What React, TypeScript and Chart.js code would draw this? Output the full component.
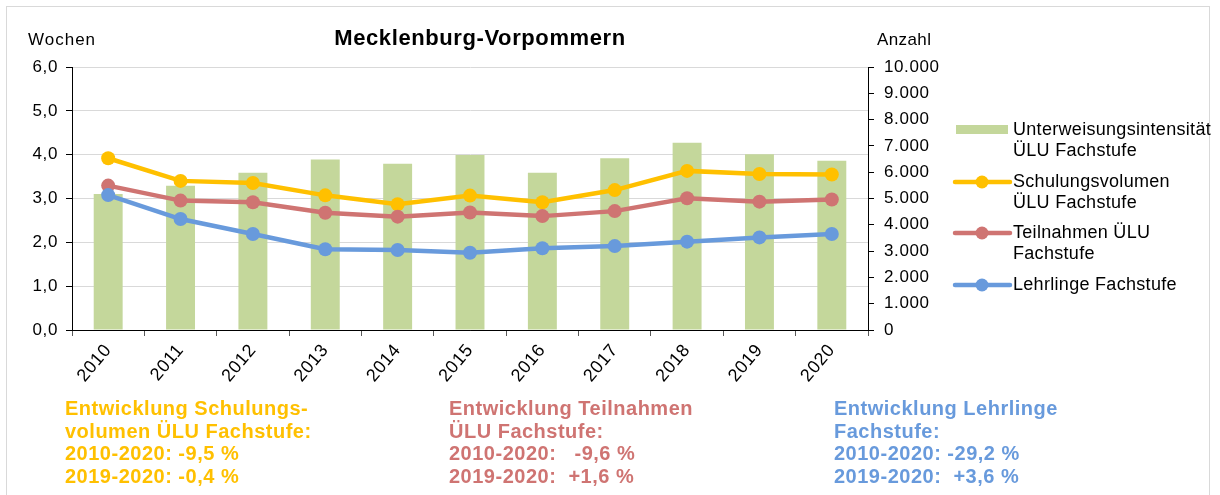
import React, { useEffect, useRef } from "react";
import { Chart, registerables } from "chart.js";

Chart.register(...registerables);

const years = ["2010", "2011", "2012", "2013", "2014", "2015", "2016", "2017", "2018", "2019", "2020"];
const intensitaet = [3.1, 3.29, 3.59, 3.89, 3.79, 3.99, 3.59, 3.92, 4.27, 4.01, 3.86];
const schulungsvolumen = [6530, 5670, 5590, 5120, 4780, 5110, 4860, 5320, 6050, 5930, 5910];
const teilnahmen = [5490, 4920, 4860, 4460, 4310, 4470, 4330, 4520, 5010, 4880, 4960];
const lehrlinge = [5130, 4220, 3650, 3070, 3040, 2940, 3110, 3190, 3360, 3520, 3650];

const title = "Mecklenburg-Vorpommern";
const leftAxisTitle = "Wochen";
const rightAxisTitle = "Anzahl";

const legendLabels = [
  ["Unterweisungsintensität", "ÜLU Fachstufe"],
  ["Schulungsvolumen", "ÜLU Fachstufe"],
  ["Teilnahmen ÜLU", "Fachstufe"],
  ["Lehrlinge Fachstufe"],
];

const noteYellow = ["Entwicklung Schulungs-", "volumen ÜLU Fachstufe:", "2010-2020: -9,5 %", "2019-2020: -0,4 %"];
const noteRed = ["Entwicklung Teilnahmen", "ÜLU Fachstufe:", "2010-2020:   -9,6 %", "2019-2020:  +1,6 %"];
const noteBlue = ["Entwicklung Lehrlinge", "Fachstufe:", "2010-2020: -29,2 %", "2019-2020:  +3,6 %"];

const GREEN = "#C4D79B";
const YELLOW = "#FFC000";
const RED = "#CF7472";
const BLUE = "#689ADC";
const FONT = "'Liberation Sans', Arial, sans-serif";

const spacingPlugin = {
  id: "spacing",
  beforeUpdate(chart: any) {
    chart.ctx.letterSpacing = "0.6px";
  },
  beforeDraw(chart: any) {
    chart.ctx.letterSpacing = "0.6px";
  },
};

export default function App() {
  const canvasRef = useRef<HTMLCanvasElement>(null);

  useEffect(() => {
    const ctx = canvasRef.current!;
    const tickFont = { family: FONT, size: 17 };
    const lineDs = (label: string, data: number[], color: string, order: number): any => ({
      type: "line",
      label,
      data,
      yAxisID: "y1",
      borderColor: color,
      backgroundColor: color,
      borderWidth: 4.5,
      pointRadius: 7,
      pointBorderWidth: 0,
      pointBackgroundColor: color,
      order,
    });
    const chart = new Chart(ctx, {
      type: "bar",
      data: {
        labels: years,
        datasets: [
          lineDs("Lehrlinge Fachstufe", lehrlinge, BLUE, 1),
          lineDs("Teilnahmen ÜLU Fachstufe", teilnahmen, RED, 2),
          lineDs("Schulungsvolumen ÜLU Fachstufe", schulungsvolumen, YELLOW, 3),
          {
            type: "bar",
            label: "Unterweisungsintensität ÜLU Fachstufe",
            data: intensitaet,
            yAxisID: "y",
            backgroundColor: GREEN,
            borderWidth: 0,
            categoryPercentage: 1,
            barPercentage: 0.4,
            order: 10,
          } as any,
        ],
      },
      options: {
        responsive: false,
        animation: false,
        layout: { padding: { top: 67, left: 0, right: 0, bottom: 0 } },
        plugins: {
          legend: { display: false },
          tooltip: { enabled: false },
          title: { display: false },
        },
        scales: {
          x: {
            offset: true,
            grid: {
              offset: true,
              drawOnChartArea: false,
              drawTicks: true,
              tickLength: 6,
              tickColor: "#595959",
            },
            border: { display: true, color: "#000", width: 1 },
            ticks: {
              font: { family: FONT, size: 18 },
              color: "#000",
              minRotation: 50,
              maxRotation: 50,
              autoSkip: false,
              padding: 4,
            },
            afterFit: (s: any) => {
              s.height = 70;
            },
          },
          y: {
            position: "left",
            min: 0,
            max: 6,
            grid: {
              color: (c: any) => (c.tick && c.tick.value === 0 ? "#000" : "#D9D9D9"),
              lineWidth: 1,
              drawTicks: true,
              tickLength: 6,
              tickColor: "#000",
            },
            border: { display: true, color: "#000", width: 1 },
            ticks: {
              stepSize: 1,
              font: tickFont,
              color: "#000",
              padding: 8,
              callback: (v: any) => Number(v).toFixed(1).replace(".", ","),
            },
            afterFit: (s: any) => {
              s.width = 72;
            },
          },
          y1: {
            position: "right",
            min: 0,
            max: 10000,
            grid: {
              drawOnChartArea: false,
              drawTicks: true,
              tickLength: 6,
              tickColor: "#000",
            },
            border: { display: true, color: "#000", width: 1 },
            ticks: {
              stepSize: 1000,
              font: tickFont,
              color: "#000",
              padding: 10,
              callback: (v: any) => Number(v).toLocaleString("de-DE"),
            },
            afterFit: (s: any) => {
              s.width = 352;
            },
          },
        },
      },
      plugins: [spacingPlugin],
    });
    return () => chart.destroy();
  }, []);

  const legendTops = [119, 171, 222, 274];
  const legendColors = [GREEN, YELLOW, RED, BLUE];

  const noteStyle = (left: number, color: string): React.CSSProperties => ({
    position: "absolute",
    left,
    top: 397,
    color,
    fontFamily: FONT,
    fontWeight: "bold",
    fontSize: 20,
    lineHeight: "22.5px",
    letterSpacing: "0.5px",
    whiteSpace: "pre",
  });

  return (
    <div
      style={{
        position: "absolute",
        left: 0,
        top: 0,
        width: 1220,
        height: 495,
        overflow: "hidden",
        background: "#fff",
        fontFamily: FONT,
      }}
    >
      <div
        style={{
          position: "absolute",
          left: 6,
          top: 6,
          width: 1202,
          height: 520,
          border: "1px solid #D9D9D9",
        }}
      />
      <canvas
        ref={canvasRef}
        width={1220}
        height={400}
        style={{ position: "absolute", left: 0, top: 0, width: 1220, height: 400 }}
      />
      <div
        style={{
          position: "absolute",
          left: 0,
          width: 960,
          top: 24,
          textAlign: "center",
          fontWeight: "bold",
          fontSize: 22,
          letterSpacing: "0.6px",
          color: "#000",
          lineHeight: "28px",
        }}
      >
        {title}
      </div>
      <div style={{ position: "absolute", left: 28, top: 29, fontSize: 17, lineHeight: "21px", letterSpacing: "1px", color: "#000" }}>
        {leftAxisTitle}
      </div>
      <div style={{ position: "absolute", left: 877, top: 29, fontSize: 17, lineHeight: "21px", letterSpacing: "0.4px", color: "#000" }}>
        {rightAxisTitle}
      </div>
      <svg style={{ position: "absolute", left: 0, top: 0 }} width={1220} height={400}>
        {legendTops.map((t, i) => {
          const cy = t + 11;
          const c = legendColors[i];
          return i === 0 ? (
            <rect key={i} x={956} y={cy - 5} width={52} height={9} fill={c} />
          ) : (
            <g key={i}>
              <line x1={955} y1={cy} x2={1010} y2={cy} stroke={c} strokeWidth={4.5} strokeLinecap="round" />
              <circle cx={982} cy={cy} r={6.5} fill={c} />
            </g>
          );
        })}
      </svg>
      {legendLabels.map((lines, i) => (
        <div
          key={i}
          style={{
            position: "absolute",
            left: 1013,
            top: legendTops[i],
            fontSize: 18,
            lineHeight: "21px",
            letterSpacing: "0.3px",
            color: "#000",
            whiteSpace: "pre",
          }}
        >
          {lines.map((l, j) => (
            <div key={j}>{l}</div>
          ))}
        </div>
      ))}
      <div style={noteStyle(65, YELLOW)}>
        {noteYellow.map((l, j) => (
          <div key={j}>{l}</div>
        ))}
      </div>
      <div style={noteStyle(449, RED)}>
        {noteRed.map((l, j) => (
          <div key={j}>{l}</div>
        ))}
      </div>
      <div style={noteStyle(834, BLUE)}>
        {noteBlue.map((l, j) => (
          <div key={j}>{l}</div>
        ))}
      </div>
    </div>
  );
}
